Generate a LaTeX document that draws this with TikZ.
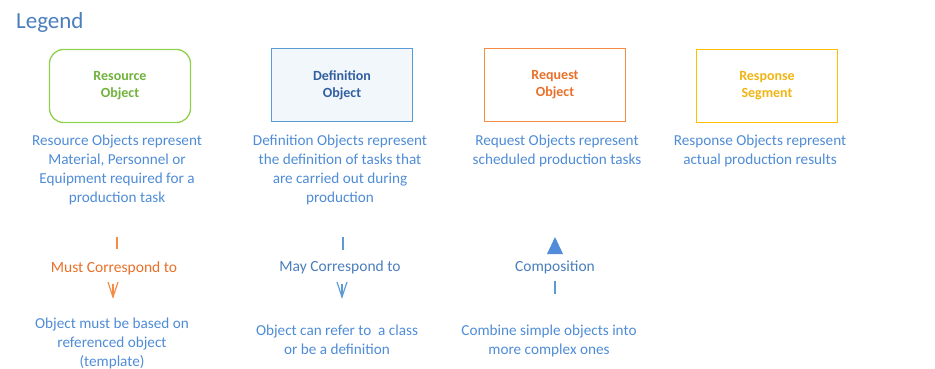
\documentclass[tikz,border=0pt]{standalone}
\usepackage{fontspec}
\setmainfont{Carlito}
\usetikzlibrary{arrows.meta}
\definecolor{descblue}{RGB}{79,140,214}
\definecolor{legblue}{RGB}{74,126,187}
\definecolor{resgreen}{RGB}{146,208,80}
\definecolor{restext}{RGB}{112,178,60}
\definecolor{defblue}{RGB}{91,155,213}
\definecolor{deftext}{RGB}{50,95,160}
\definecolor{reqorange}{RGB}{244,140,70}
\definecolor{reqtext}{RGB}{232,112,40}
\definecolor{respyellow}{RGB}{255,192,0}
\definecolor{resptext}{RGB}{240,180,20}
\tikzset{
  legbox/.style={minimum width=141pt, minimum height=73pt, line width=1.3pt, align=center, inner sep=0pt, font=\fontsize{14}{17}\selectfont\bfseries},
  desc/.style={align=center, text=descblue, font=\fontsize{15.2}{19}\selectfont, inner sep=0pt},
  rellabel/.style={font=\fontsize{15.5}{18}\selectfont, inner sep=0pt},
}
\begin{document}
\begin{tikzpicture}[x=1pt,y=-1pt]
\useasboundingbox (0,0) rectangle (935,369);
\node[anchor=west, text=legblue, font=\fontsize{23}{26}\selectfont, inner sep=0pt] (legend) at (16,22) {Legend};

\node[legbox, draw=resgreen, rounded corners=14pt, text=restext] (res) at (120,86) {Resource\\Object};
\node[legbox, draw=defblue, fill=defblue!8, text=deftext] (def) at (342,85) {Definition\\Object};
\node[legbox, draw=reqorange, text=reqtext] (req) at (555,85) {Request\\Object};
\node[legbox, draw=respyellow, text=resptext] (resp) at (767,86) {Response\\Segment};

\node[desc, anchor=north] (resd) at (117,135) {Resource Objects represent\\Material, Personnel or\\Equipment required for a\\production task};
\node[desc, anchor=north] (defd) at (340,135) {Definition Objects represent\\the definition of tasks that\\are carried out during\\production};
\node[desc, anchor=north] (reqd) at (557,135) {Request Objects represent\\scheduled production tasks};
\node[desc, anchor=north] (respd) at (760,135) {Response Objects represent\\actual production results};

% Must correspond
\coordinate (m1) at (117,237);
\coordinate (m2) at (117,249);
\draw[reqorange, line width=1.2pt] (m1) -- (m2);
\node[rellabel, text=reqtext] (must) at (114,268) {Must Correspond to};
\coordinate (m3) at (113,284);
\coordinate (m4) at (113,297);
\draw[reqorange, line width=1.2pt] (m3) -- (m4);
\draw[reqorange, line width=1.2pt, line join=miter] ([xshift=-5pt,yshift=15pt]m4) -- (m4) -- ([xshift=5pt,yshift=15pt]m4);
\node[desc, anchor=north] (mustd) at (112,318) {Object must be based on\\referenced object\\(template)};

% May correspond
\coordinate (a1) at (343,237);
\coordinate (a2) at (343,250);
\draw[defblue, line width=1.2pt] (a1) -- (a2);
\node[rellabel, text=legblue] (may) at (340,267) {May Correspond to};
\coordinate (a3) at (342,284);
\coordinate (a4) at (342,297);
\draw[defblue, line width=1.2pt] (a3) -- (a4);
\draw[defblue, line width=1.2pt, line join=miter] ([xshift=-5pt,yshift=15pt]a4) -- (a4) -- ([xshift=5pt,yshift=15pt]a4);
\node[desc, anchor=north] (mayd) at (337,325) {Object can refer to \ a class\\or be a definition};

% Composition
\coordinate (c1) at (555,281);
\coordinate (c2) at (555,294);
\draw[defblue, line width=1.2pt] (c1) -- (c2);
\node[rellabel, text=legblue] (comp) at (555,267) {Composition};
\fill[defblue!90!blue] (547,254) -- (563,254) -- (555,237) -- cycle;
\node[desc, anchor=north] (compd) at (549,325) {Combine simple objects into\\more complex ones};
\end{tikzpicture}
\end{document}
